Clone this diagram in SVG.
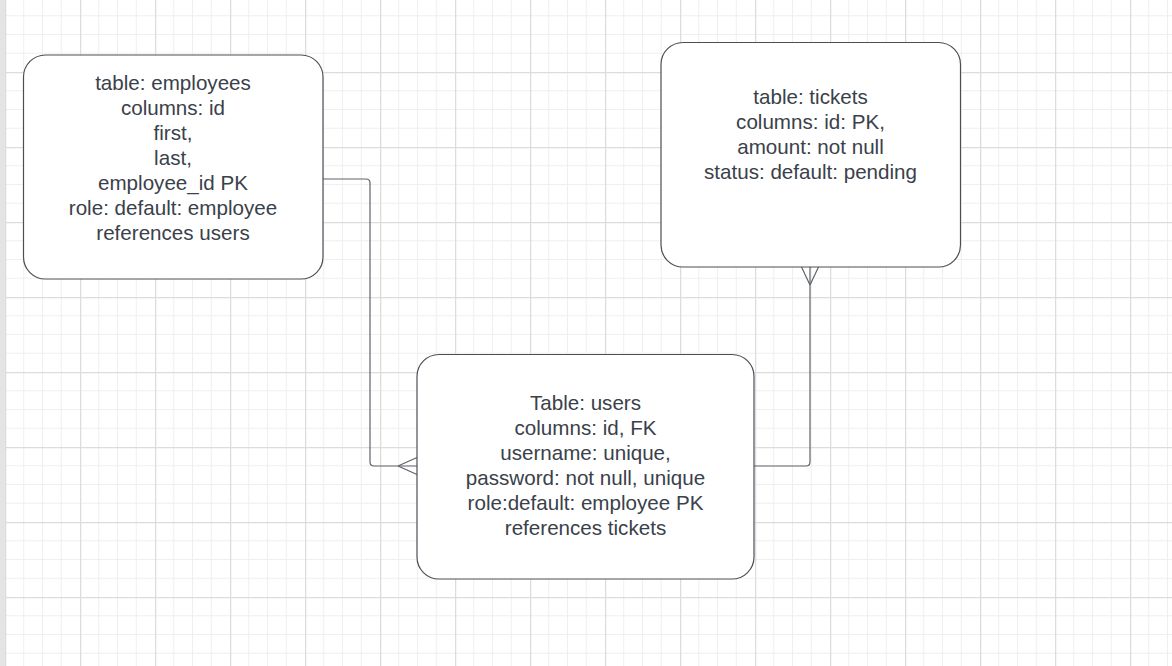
<svg xmlns="http://www.w3.org/2000/svg" width="1172" height="666" viewBox="0 0 1172 666">
<defs>
<pattern id="grid" patternUnits="userSpaceOnUse" x="5" y="-3" width="75" height="75">
<path d="M18.75 0V75M37.5 0V75M56.25 0V75M0 18.75H75M0 37.5H75M0 56.25H75" stroke="#efefef" stroke-width="1" fill="none"/>
<path d="M0.5 0V75M0 0.5H75" stroke="#dcdcdc" stroke-width="1.5" fill="none"/>
</pattern>
</defs>
<style>
.box{fill:#ffffff;stroke:#4a4f56;stroke-width:1.2}
.t{font-family:"Liberation Sans",Arial,sans-serif;font-size:20.6px;fill:#3a414a;text-anchor:middle}
.c{fill:none;stroke:#5e6369;stroke-width:1.2}
</style>
<rect width="1172" height="666" fill="#ffffff"/>
<rect width="1172" height="666" fill="url(#grid)"/>
<rect x="0" y="0" width="5" height="666" fill="#e4e4e4"/>
<g id="connectors">
<path class="c" d="M323 179H366Q370 179 370 183V462Q370 466 374 466H417"/>
<path class="c" d="M398 466L417 457.5M398 466L417 474.5"/>
<path class="c" d="M754 466H806Q810 466 810 462V267"/>
<path class="c" d="M810 285L801.5 267M810 285L818.5 267"/>
</g>
<g id="employees">
<rect class="box" x="23.5" y="55" width="299.5" height="224" rx="22" ry="22"/>
<text class="t" x="173" y="90">table: employees</text>
<text class="t" x="173" y="115">columns: id</text>
<text class="t" x="173" y="140">first,</text>
<text class="t" x="173" y="165">last,</text>
<text class="t" x="173" y="190">employee_id PK</text>
<text class="t" x="173" y="215">role: default: employee</text>
<text class="t" x="173" y="240">references users</text>
</g>
<g id="tickets">
<rect class="box" x="661" y="42.5" width="299.5" height="224.5" rx="22" ry="22"/>
<text class="t" x="810.5" y="104">table: tickets</text>
<text class="t" x="810.5" y="129">columns: id: PK,</text>
<text class="t" x="810.5" y="154">amount: not null</text>
<text class="t" x="810.5" y="179">status: default: pending</text>
</g>
<g id="users">
<rect class="box" x="417" y="354.5" width="337" height="224.5" rx="22" ry="22"/>
<text class="t" x="585.5" y="410">Table: users</text>
<text class="t" x="585.5" y="435">columns: id, FK</text>
<text class="t" x="585.5" y="460">username: unique,</text>
<text class="t" x="585.5" y="485">password: not null, unique</text>
<text class="t" x="585.5" y="510">role:default: employee PK</text>
<text class="t" x="585.5" y="535">references tickets</text>
</g>
</svg>
